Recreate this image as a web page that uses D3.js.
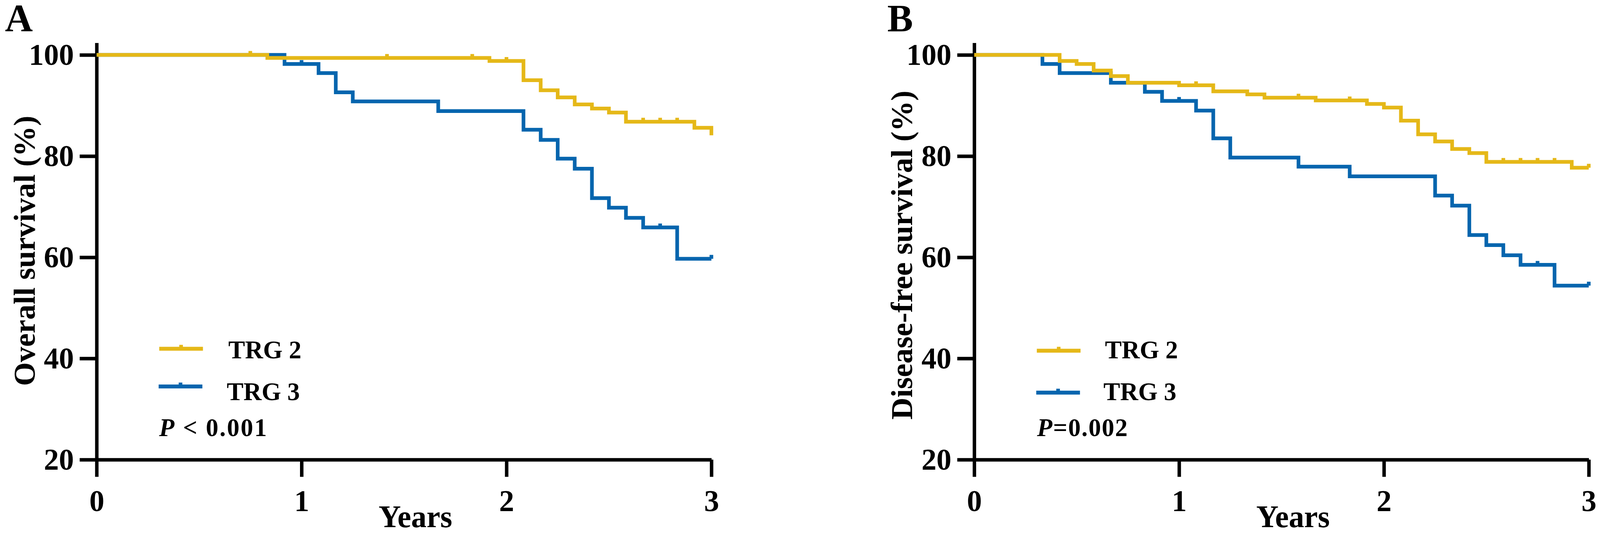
<!DOCTYPE html>
<html>
<head>
<meta charset="utf-8">
<script src="https://cdn.jsdelivr.net/npm/d3@7"></script>
<style>
  html, body { margin: 0; padding: 0; background: #fff; overflow: hidden; }
  svg { display: block; width: 100vw; height: 100vh; }
  text { font-family: "Liberation Serif", "Times New Roman", serif; font-weight: bold; fill: #000; }
</style>
</head>
<body>
<svg id="chart" viewBox="0 0 4153 1364" preserveAspectRatio="none"></svg>
<script>
// ---------------- DATA ----------------
const yearTicks = [0, 1, 2, 3];
const pctTicks = [20, 40, 60, 80, 100];
const groupNames = ["TRG 2", "TRG 3"];

// Panel A: Overall survival
const osTRG2Time = [0, 0.833, 1.917, 2.083, 2.167, 2.25, 2.333, 2.417, 2.5, 2.583, 2.917, 3.0];
const osTRG2Surv = [100, 99.4, 98.8, 95.0, 93.0, 91.6, 90.2, 89.4, 88.6, 86.8, 85.6, 84.1];
const osTRG2Censor = [0.75, 1.417, 1.833, 2.0, 2.667, 2.75, 2.833];

const osTRG3Time = [0, 0.917, 1.083, 1.167, 1.25, 1.667, 2.083, 2.167, 2.25, 2.333, 2.417, 2.5, 2.583, 2.667, 2.833, 3.0];
const osTRG3Surv = [100, 98.2, 96.4, 92.6, 90.8, 88.9, 85.2, 83.2, 79.5, 77.5, 71.7, 69.8, 67.8, 65.9, 59.7, 59.7];
const osTRG3Censor = [1.0, 2.75, 3.0];

// Panel B: Disease-free survival
const dfsTRG2Time = [0, 0.417, 0.5, 0.583, 0.667, 0.75, 1.0, 1.167, 1.333, 1.417, 1.667, 1.917, 2.0, 2.083, 2.167, 2.25, 2.333, 2.417, 2.5, 2.917, 3.0];
const dfsTRG2Surv = [100, 98.8, 98.2, 96.9, 95.8, 94.5, 94.0, 92.8, 92.2, 91.55, 91.0, 90.3, 89.6, 87.0, 84.3, 82.9, 81.4, 80.6, 78.85, 77.7, 77.7];
const dfsTRG2Censor = [1.083, 1.583, 1.833, 2.583, 2.667, 2.75, 2.833, 3.0];

const dfsTRG3Time = [0, 0.333, 0.417, 0.667, 0.833, 0.917, 1.083, 1.167, 1.25, 1.583, 1.833, 2.25, 2.333, 2.417, 2.5, 2.583, 2.667, 2.833, 3.0];
const dfsTRG3Surv = [100, 98.2, 96.4, 94.5, 92.7, 90.9, 89.0, 83.5, 79.7, 77.9, 76.0, 72.2, 70.2, 64.4, 62.4, 60.4, 58.5, 54.4, 54.4];
const dfsTRG3Censor = [1.0, 2.75, 3.0];

const panelLetters = ["A", "B"];
const yTitles = ["Overall survival (%)", "Disease-free survival (%)"];
const xTitle = "Years";
const pLabels = [["P", " < 0.001"], ["P", "=0.002"]];

// ---------------- STYLE / LAYOUT ----------------
const colors = ["#E5B818", "#0565AE"];
const curveWidth = 9.5;
const axisWidth = 9;
const tickLen = 44;

const layouts = [
  { axisX: 250.8, yearW: 531.9, letterX: 13, yTitleY: 642, legY: [892.5, 989], legTextX: 592.7, pX: 413, pSpacing: 3, legLineX: 162.5 },
  { axisX: 2528.7, yearW: 531.7, letterX: 2303, yTitleY: 653, legY: [897.5, 1004.7], legTextX: 2868, pX: 2691.7, pSpacing: 2, legLineX: 162.5 }
];

const panelData = [
  [
    { time: osTRG2Time, surv: osTRG2Surv, censor: osTRG2Censor },
    { time: osTRG3Time, surv: osTRG3Surv, censor: osTRG3Censor }
  ],
  [
    { time: dfsTRG2Time, surv: dfsTRG2Surv, censor: dfsTRG2Censor },
    { time: dfsTRG3Time, surv: dfsTRG3Surv, censor: dfsTRG3Censor }
  ]
];

// ---------------- DRAW ----------------
const svg = d3.select("#chart");
svg.append("rect").attr("width", 4153).attr("height", 1364).attr("fill", "#fff");

const yTop = 109.4, y20 = 1176.3;

panelData.forEach((series, pi) => {
  const L = layouts[pi];
  const g = svg.append("g");

  const x = d3.scaleLinear().domain([0, 3]).range([L.axisX, L.axisX + 3 * L.yearW]);
  const y = d3.scaleLinear().domain([20, 102.4]).range([y20, yTop]);

  // axes
  const yAxis = d3.axisLeft(y).tickValues(pctTicks).tickFormat(d3.format("d"))
    .tickSize(tickLen).tickSizeOuter(0).tickPadding(15);
  const xAxis = d3.axisBottom(x).tickValues(yearTicks).tickFormat(d3.format("d"))
    .tickSize(tickLen).tickSizeOuter(0).tickPadding(32);

  const yg = g.append("g").attr("transform", `translate(${L.axisX},0)`).call(yAxis);
  const xg = g.append("g").attr("transform", `translate(0,${y(20)})`).call(xAxis);
  [yg, xg].forEach(a => {
    a.selectAll("path.domain").attr("stroke", "#000").attr("stroke-width", axisWidth).attr("fill", "none");
    a.selectAll(".tick line").attr("stroke", "#000").attr("stroke-width", axisWidth);
    a.selectAll(".tick text")
      .attr("fill", "#000")
      .style("font-family", '"Liberation Serif","Times New Roman",serif')
      .style("font-weight", "bold")
      .style("font-size", "78px");
  });

  // curves (TRG 3 first, TRG 2 on top)
  const line = d3.line().x(d => x(d[0])).y(d => y(d[1])).curve(d3.curveStepAfter);
  [1, 0].forEach(si => {
    const s = series[si];
    const pts = s.time.map((t, i) => [t, s.surv[i]]);
    g.append("path")
      .attr("d", line(pts))
      .attr("fill", "none")
      .attr("stroke", colors[si])
      .attr("stroke-width", curveWidth)
      .attr("stroke-linejoin", "miter")
      .attr("stroke-linecap", "butt");
    // censor ticks
    s.censor.forEach(ct => {
      const idx = d3.bisectRight(s.time, ct) - 1;
      const v = s.surv[Math.max(0, idx)];
      g.append("line")
        .attr("x1", x(ct)).attr("x2", x(ct))
        .attr("y1", y(v)).attr("y2", y(v) - 10)
        .attr("stroke", colors[si])
        .attr("stroke-width", curveWidth);
    });
  });

  // panel letter
  g.append("text").attr("x", L.letterX).attr("y", 79.5).style("font-size", "100px").text(panelLetters[pi]);

  // y title
  g.append("text")
    .attr("transform", `translate(${L.axisX - 161},${L.yTitleY}) rotate(-90)`)
    .attr("text-anchor", "middle")
    .style("font-size", "78.3px")
    .text(yTitles[pi]);

  // x title
  g.append("text")
    .attr("x", L.axisX + 923).attr("y", 1349)
    .attr("text-anchor", "end")
    .style("font-size", "80px")
    .text(xTitle);

  // legend
  groupNames.forEach((name, si) => {
    const ly = L.legY[si];
    const x1 = L.axisX + L.legLineX - (si === 1 ? 1.5 : 0);
    const x2 = x1 + 113.5;
    g.append("line").attr("x1", x1).attr("x2", x2).attr("y1", ly).attr("y2", ly)
      .attr("stroke", colors[si]).attr("stroke-width", 10);
    const mx = (x1 + x2) / 2;
    g.append("line").attr("x1", mx).attr("x2", mx).attr("y1", ly).attr("y2", ly - 10)
      .attr("stroke", colors[si]).attr("stroke-width", 9.5);
    g.append("text")
      .attr("x", L.legTextX - (si === 1 ? 4 : 0))
      .attr("y", si === 0 ? 917.3 : 1024)
      .style("font-size", "65px")
      .text(name);
  });

  // p-value
  const pt = g.append("text").attr("x", L.pX).attr("y", 1116)
    .style("font-size", "65px").style("letter-spacing", L.pSpacing + "px");
  pt.append("tspan").style("font-style", "italic").text(pLabels[pi][0]);
  pt.append("tspan").attr("xml:space", "preserve").style("white-space", "pre").text(pLabels[pi][1]);
});
</script>
</body>
</html>
